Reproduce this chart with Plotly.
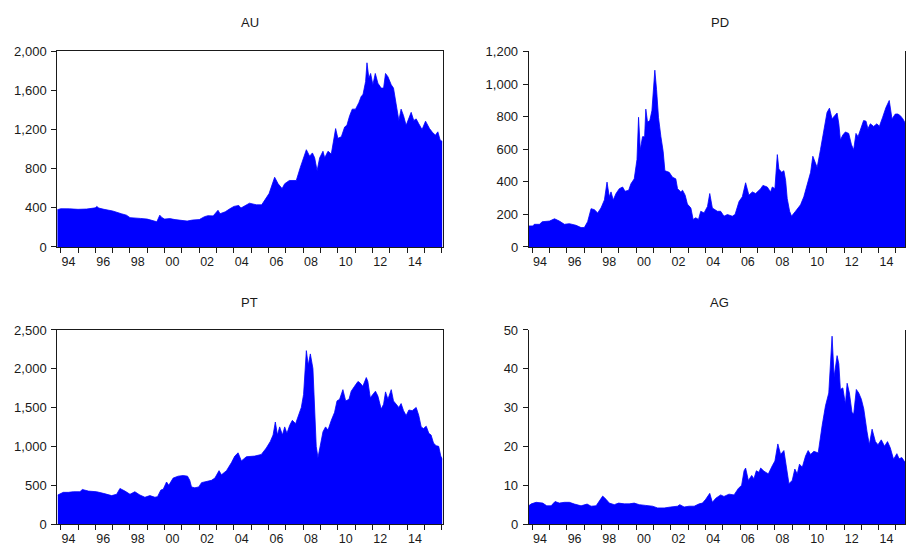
import plotly.graph_objects as go

# Precious metal prices, sampled as decimal years
au_t = [1993.80, 1994.00, 1994.5, 1995.0, 1995.5, 1996.0, 1996.08, 1996.2, 1996.5, 1997.0,
        1997.5, 1997.8, 1998.0, 1998.3, 1998.6, 1999.0, 1999.4, 1999.55, 1999.72, 1999.85,
        2000.0, 2000.3, 2000.6, 2001.0, 2001.3, 2001.6, 2002.0, 2002.3, 2002.5, 2002.8,
        2003.08, 2003.2, 2003.5, 2003.76, 2004.0, 2004.28, 2004.4, 2004.9, 2005.3, 2005.6,
        2005.8, 2006.03, 2006.35, 2006.55, 2006.78, 2006.93, 2007.2, 2007.6, 2007.83, 2008.03,
        2008.18, 2008.37, 2008.53, 2008.66, 2008.8, 2008.95, 2009.14, 2009.24, 2009.43, 2009.62,
        2009.87, 2010.0, 2010.2, 2010.39, 2010.52, 2010.68, 2010.83, 2011.02, 2011.21, 2011.35,
        2011.45, 2011.6, 2011.68, 2011.79, 2011.89, 2012.02, 2012.16, 2012.31, 2012.5, 2012.64,
        2012.75, 2012.89, 2013.08, 2013.21, 2013.37, 2013.52, 2013.65, 2013.79, 2013.94, 2014.1,
        2014.23, 2014.38, 2014.52, 2014.67, 2014.86, 2015.06, 2015.29, 2015.48, 2015.63, 2015.77,
        2015.9, 2016.03]
au_v = [381, 391, 390, 385, 388, 400, 415, 398, 385, 368,
        340, 325, 300, 298, 292, 285, 262, 258, 325, 300,
        285, 290, 280, 268, 265, 275, 280, 310, 320, 318,
        375, 340, 360, 390, 415, 425, 398, 448, 431, 431,
        481, 547, 713, 647, 597, 647, 680, 680, 813, 912,
        995, 929, 962, 912, 780, 912, 979, 912, 979, 950,
        1211, 1111, 1128, 1227, 1244, 1343, 1410, 1410, 1476, 1542,
        1559, 1692, 1884, 1725, 1775, 1659, 1775, 1675, 1625, 1625,
        1775, 1741, 1659, 1625, 1460, 1294, 1410, 1343, 1244, 1310,
        1377, 1294, 1310, 1260, 1201, 1287, 1211, 1168, 1144, 1178,
        1095, 1078]

pd_t = [1993.80, 1994.04, 1994.12, 1994.42, 1994.58, 1995.0, 1995.29, 1995.57, 1995.86, 1996.15,
        1996.53, 1996.82, 1997.01, 1997.2, 1997.4, 1997.59, 1997.78, 1997.97, 1998.17, 1998.32,
        1998.45, 1998.55, 1998.68, 1998.84, 1999.03, 1999.22, 1999.36, 1999.57, 1999.7, 1999.89,
        2000.05, 2000.14, 2000.24, 2000.37, 2000.49, 2000.56, 2000.66, 2000.79, 2000.91, 2001.0,
        2001.08, 2001.18, 2001.29, 2001.43, 2001.56, 2001.66, 2001.91, 2002.1, 2002.29, 2002.39,
        2002.58, 2002.68, 2002.83, 2002.96, 2003.16, 2003.29, 2003.44, 2003.6, 2003.73, 2003.92,
        2004.12, 2004.25, 2004.4, 2004.69, 2004.88, 2005.07, 2005.27, 2005.55, 2005.71, 2005.94,
        2006.13, 2006.32, 2006.51, 2006.71, 2006.9, 2007.19, 2007.32, 2007.57, 2007.76, 2007.86,
        2008.01, 2008.15, 2008.24, 2008.4, 2008.53, 2008.63, 2008.72, 2008.86, 2008.97, 2009.2,
        2009.49, 2009.68, 2009.87, 2010.07, 2010.2, 2010.32, 2010.45, 2010.64, 2010.84, 2011.02,
        2011.16, 2011.31, 2011.46, 2011.6, 2011.7, 2011.79, 2011.93, 2012.08, 2012.27, 2012.43,
        2012.56, 2012.69, 2012.81, 2012.94, 2013.13, 2013.27, 2013.38, 2013.52, 2013.71, 2013.9,
        2014.04, 2014.23, 2014.42, 2014.61, 2014.77, 2014.96, 2015.11, 2015.25, 2015.4, 2015.53]
pd_v = [129, 129, 139, 139, 155, 159, 173, 159, 139, 143,
        133, 119, 119, 155, 235, 229, 209, 239, 289, 398,
        308, 338, 289, 328, 358, 368, 342, 348, 388, 418,
        537, 796, 597, 677, 677, 846, 766, 776, 836, 975,
        1085, 965, 796, 677, 587, 468, 458, 428, 418, 358,
        338, 348, 318, 263, 239, 169, 179, 169, 219, 209,
        249, 328, 239, 219, 219, 189, 199, 189, 199, 279,
        308, 394, 318, 338, 328, 358, 378, 368, 338, 368,
        358, 567, 478, 458, 468, 408, 298, 219, 189, 219,
        259, 308, 388, 458, 557, 527, 488, 597, 716, 826,
        852, 786, 806, 822, 756, 657, 687, 706, 697, 627,
        597, 697, 677, 716, 776, 772, 726, 756, 740, 756,
        740, 796, 856, 899, 786, 816, 816, 806, 786, 760]

pt_t = [1993.83, 1994.15, 1994.44, 1994.73, 1995.11, 1995.25, 1995.6, 1996.07, 1996.46, 1996.94,
        1997.23, 1997.42, 1997.71, 1998.0, 1998.28, 1998.57, 1998.86, 1999.15, 1999.44, 1999.59,
        1999.78, 1999.92, 2000.11, 2000.24, 2000.49, 2000.78, 2001.07, 2001.32, 2001.45, 2001.55,
        2001.74, 2001.97, 2002.13, 2002.41, 2002.7, 2002.9, 2003.14, 2003.28, 2003.57, 2003.86,
        2004.05, 2004.24, 2004.43, 2004.72, 2005.2, 2005.58, 2005.87, 2006.1, 2006.26, 2006.39,
        2006.51, 2006.64, 2006.8, 2006.93, 2007.06, 2007.22, 2007.37, 2007.56, 2007.7, 2007.89,
        2008.02, 2008.18, 2008.29, 2008.41, 2008.56, 2008.66, 2008.75, 2008.85, 2008.99, 2009.14,
        2009.29, 2009.43, 2009.62, 2009.81, 2009.95, 2010.1, 2010.29, 2010.45, 2010.64, 2010.77,
        2010.96, 2011.16, 2011.29, 2011.44, 2011.64, 2011.73, 2011.87, 2012.02, 2012.17, 2012.31,
        2012.5, 2012.64, 2012.75, 2012.89, 2013.08, 2013.21, 2013.37, 2013.52, 2013.65, 2013.79,
        2013.94, 2014.1, 2014.29, 2014.52, 2014.67, 2014.81, 2014.94, 2015.1, 2015.25, 2015.38,
        2015.52, 2015.67, 2015.82, 2015.94, 2016.03]
pt_v = [379, 413, 413, 421, 421, 450, 429, 421, 400, 371,
        388, 463, 429, 388, 421, 379, 350, 371, 350, 358,
        442, 454, 546, 504, 596, 621, 629, 621, 567, 483,
        471, 483, 538, 554, 567, 596, 692, 638, 692, 796,
        879, 921, 817, 871, 879, 900, 983, 1067, 1150, 1317,
        1150, 1254, 1150, 1254, 1171, 1275, 1338, 1296, 1379, 1504,
        1671, 2234, 2046, 2192, 2004, 1504, 1004, 858, 1046, 1192,
        1254, 1213, 1338, 1442, 1588, 1608, 1733, 1588, 1608, 1713,
        1775, 1838, 1817, 1775, 1888, 1838, 1629, 1671, 1713, 1650,
        1483, 1546, 1704, 1608, 1733, 1588, 1546, 1504, 1554, 1463,
        1400, 1471, 1463, 1504, 1400, 1254, 1233, 1263, 1171, 1150,
        1046, 1013, 1004, 879, 838]

ag_t = [1993.80, 1993.95, 1994.23, 1994.61, 1994.84, 1995.09, 1995.32, 1995.57, 1995.86, 1996.15,
        1996.44, 1996.82, 1997.17, 1997.4, 1997.69, 1997.88, 1998.07, 1998.26, 1998.45, 1998.74,
        1998.99, 1999.32, 1999.6, 1999.89, 2000.18, 2000.56, 2000.95, 2001.24, 2001.62, 2002.0,
        2002.39, 2002.52, 2002.77, 2003.06, 2003.35, 2003.64, 2003.83, 2004.02, 2004.25, 2004.4,
        2004.6, 2004.88, 2005.07, 2005.36, 2005.65, 2005.9, 2006.09, 2006.23, 2006.32, 2006.48,
        2006.67, 2006.8, 2006.94, 2007.09, 2007.19, 2007.38, 2007.63, 2007.86, 2008.01, 2008.18,
        2008.34, 2008.53, 2008.66, 2008.82, 2009.01, 2009.16, 2009.3, 2009.43, 2009.59, 2009.78,
        2009.93, 2010.07, 2010.26, 2010.51, 2010.74, 2010.93, 2011.12, 2011.31, 2011.43, 2011.6,
        2011.7, 2011.79, 2011.93, 2012.08, 2012.18, 2012.31, 2012.46, 2012.56, 2012.71, 2012.85,
        2013.0, 2013.14, 2013.33, 2013.46, 2013.62, 2013.81, 2013.96, 2014.15, 2014.34, 2014.51,
        2014.67, 2014.86, 2015.05, 2015.18, 2015.34, 2015.53]
ag_v = [4.8, 5.3, 5.7, 5.5, 4.8, 4.8, 5.9, 5.5, 5.7, 5.7,
        5.25, 4.8, 5.25, 4.7, 4.8, 5.9, 7.3, 6.5, 5.5, 5.1,
        5.5, 5.3, 5.3, 5.5, 5.1, 4.9, 4.7, 4.25, 4.25, 4.5,
        4.7, 5.1, 4.5, 4.7, 4.7, 5.3, 5.5, 6.5, 8.0, 5.7,
        6.75, 7.6, 7.2, 7.8, 7.6, 9.25, 10.1, 13.8, 14.5, 11.3,
        12.6, 11.75, 13.8, 13.4, 14.5, 13.7, 13.0, 15.1, 16.3, 20.7,
        18.0, 19.0, 15.1, 10.5, 11.3, 14.25, 13.0, 15.5, 14.7, 17.6,
        19.0, 18.0, 18.8, 18.4, 25.5, 30.5, 33.8, 48.4, 38.0, 43.4,
        41.3, 34.7, 35.1, 30.9, 36.3, 33.8, 28.8, 28.4, 34.7, 33.8,
        32.2, 29.7, 23.8, 20.5, 24.5, 21.3, 20.5, 21.75, 20.1, 21.3,
        19.7, 16.75, 18.2, 16.9, 17.2, 15.9]

panels = [
    ("AU", au_t, au_v, [0, 2000], 400),
    ("PD", pd_t, pd_v, [0, 1200], 200),
    ("PT", pt_t, pt_v, [0, 2500], 500),
    ("AG", ag_t, ag_v, [0, 50], 10),
]

W, H = 906, 550
left_x = [57.3 / W, 443 / W]
right_x = [529.3 / W, 1.0]
top_y = [1 - 246.7 / H, 1 - 45.7 / H]
bot_y = [1 - 532 / H, 1 - 332 / H]
domains = [(left_x, top_y), (right_x, top_y), (left_x, bot_y), (right_x, bot_y)]
x_ranges = [[1993.80, 2016.04], [1993.80, 2015.52], [1993.80, 2016.04], [1993.80, 2015.52]]
title_gap = [30, 30, 28, 28]

year_labels = list(range(1994, 2016, 2))
label_pos = [y + 0.45 for y in year_labels]
label_text = [str(y)[-2:] for y in year_labels]

FONT = "Liberation Sans, Arial, sans-serif"
INK = "#1a1a1a"
fig = go.Figure()
layout = dict(
    width=W, height=H,
    margin=dict(l=0, r=0, t=0, b=0),
    paper_bgcolor="white", plot_bgcolor="white",
    showlegend=False,
    font=dict(family=FONT, size=12, color=INK),
)
annotations = []
for i, (name, t, v, yr, dy) in enumerate(panels):
    n = "" if i == 0 else str(i + 1)
    xd, yd = domains[i]
    fig.add_trace(go.Scatter(
        x=t, y=v, mode="lines", fill="tozeroy",
        fillcolor="#0000ff", line=dict(color="#0000ff", width=0.8),
        xaxis="x" + n, yaxis="y" + n, hoverinfo="x+y",
    ))
    right_panel = i % 2 == 1
    layout["xaxis" + n] = dict(
        domain=xd, range=x_ranges[i], anchor="y" + n,
        tickmode="array", tickvals=label_pos, ticktext=label_text,
        ticks="", ticklabelstandoff=3,
        minor=dict(ticks="outside", tick0=1994, dtick=1, ticklen=5,
                   tickcolor=INK, tickwidth=1, showgrid=False),
        showgrid=False, zeroline=False,
        showline=True, linecolor=INK, linewidth=1,
        mirror=False if right_panel else True,
        tickfont=dict(size=12.5),
    )
    layout["yaxis" + n] = dict(
        domain=yd, range=yr, anchor="x" + n,
        tick0=0, dtick=dy, tickformat=",d",
        ticks="outside", ticklen=5, tickcolor=INK,
        ticklabelstandoff=2,
        showgrid=False, zeroline=False,
        showline=True, linecolor=INK, linewidth=1, mirror=True,
        tickfont=dict(size=13),
    )
    cx = (xd[0] + (443 / W if not right_panel else 912 / W)) / 2
    annotations.append(dict(
        text=name, x=cx, y=yd[1] + title_gap[i] / H, xref="paper", yref="paper",
        xanchor="center", yanchor="middle", showarrow=False,
        font=dict(size=13, family=FONT, color=INK),
    ))
layout["annotations"] = annotations
fig.update_layout(**layout)
fig.write_html("out.html")
